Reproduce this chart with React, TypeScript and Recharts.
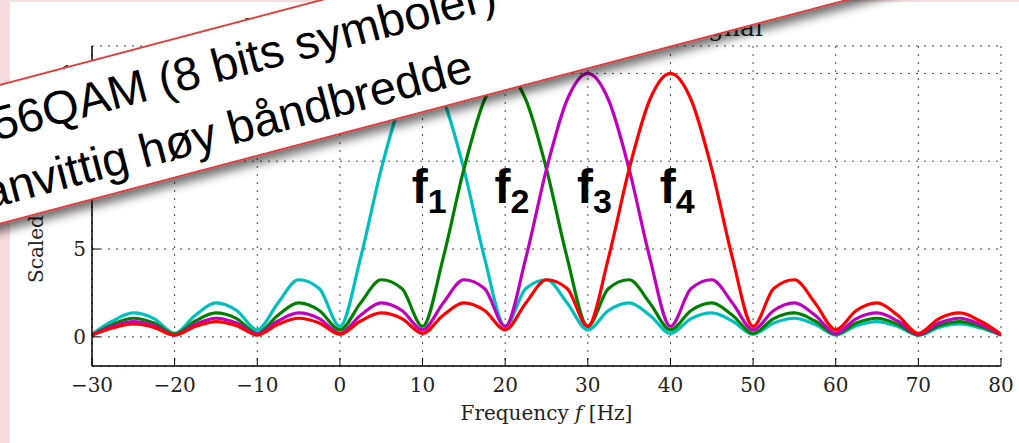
import { CartesianGrid, Line, LineChart, ReferenceDot, XAxis, YAxis } from "recharts";

// Frequency axis (Hz) and the four sub-carrier spectra.
const FREQ = [
  -30, -27.5, -25, -22.5, -20, -17.5, -15, -12.5, -10, -7.5, -5, -2.5, 0, 2.5, 5, 7.5,
  10, 12.5, 15, 17.5, 20, 22.5, 25, 27.5, 30, 32.5, 35, 37.5, 40, 42.5, 45, 47.5,
  50, 52.5, 55, 57.5, 60, 62.5, 65, 67.5, 70, 72.5, 75, 77.5, 80,
];
const F1_CYAN = [
  0.15, 0.9, 1.36, 1.04, 0.2, 1.23, 1.93, 1.5, 0.4, 1.93, 3.25, 2.75, 0.6, 4.5, 9.55, 13.5,
  15, 13.5, 9.55, 4.5, 0.6, 2.75, 3.25, 1.93, 0.4, 1.5, 1.93, 1.23, 0.2, 1.04, 1.36, 0.9,
  0.15, 0.79, 1.06, 0.71, 0.1, 0.64, 0.87, 0.59, 0.1, 0.54, 0.73, 0.5, 0.1,
];
const F2_GREEN = [
  0.1, 0.71, 1.06, 0.79, 0.15, 0.9, 1.36, 1.04, 0.2, 1.23, 1.93, 1.5, 0.4, 1.93, 3.25, 2.75,
  0.6, 4.5, 9.55, 13.5, 15, 13.5, 9.55, 4.5, 0.6, 2.75, 3.25, 1.93, 0.4, 1.5, 1.93, 1.23,
  0.2, 1.04, 1.36, 0.9, 0.15, 0.79, 1.06, 0.71, 0.1, 0.64, 0.87, 0.59, 0.1,
];
const F3_MAGENTA = [
  0.1, 0.59, 0.87, 0.64, 0.1, 0.71, 1.06, 0.79, 0.15, 0.9, 1.36, 1.04, 0.2, 1.23, 1.93, 1.5,
  0.4, 1.93, 3.25, 2.75, 0.6, 4.5, 9.55, 13.5, 15, 13.5, 9.55, 4.5, 0.6, 2.75, 3.25, 1.93,
  0.4, 1.5, 1.93, 1.23, 0.2, 1.04, 1.36, 0.9, 0.15, 0.79, 1.06, 0.71, 0.1,
];
const F4_RED = [
  0.1, 0.5, 0.73, 0.54, 0.1, 0.59, 0.87, 0.64, 0.1, 0.71, 1.06, 0.79, 0.15, 0.9, 1.36, 1.04,
  0.2, 1.23, 1.93, 1.5, 0.4, 1.93, 3.25, 2.75, 0.6, 4.5, 9.55, 13.5, 15, 13.5, 9.55, 4.5,
  0.6, 2.75, 3.25, 1.93, 0.4, 1.5, 1.93, 1.23, 0.2, 1.04, 1.36, 0.9, 0.15,
];

const X_TICKS = [-30, -20, -10, 0, 10, 20, 30, 40, 50, 60, 70, 80];
const Y_TICKS = [0, 5, 10, 15];
const X_DOMAIN: [number, number] = [-30, 80];
const Y_DOMAIN: [number, number] = [-1.66, 16.56];

// carrier centres and their f-labels
const CARRIERS = [10, 20, 30, 40];
const CARRIER_SUBS = ["1", "2", "3", "4"];
const LABEL_LEVEL = 7.6;

const SERIES = [
  { key: "c1", color: "#00bfbf", values: F1_CYAN },
  { key: "c2", color: "#008000", values: F2_GREEN },
  { key: "c3", color: "#bf00bf", values: F3_MAGENTA },
  { key: "c4", color: "#ff0000", values: F4_RED },
];

const SERIF = "'DejaVu Serif', serif";
const SANS = "'Liberation Sans', Arial, sans-serif";
const tickFont = { fontFamily: SERIF, fontSize: 20, fill: "#222" };
const frame = { stroke: "#000", strokeWidth: 1.5 };

const fmtTick = (v: number) => String(v).replace("-", "\u2212");
const blank = () => "";

function XTitle({ viewBox }: any) {
  const { x, y, width } = viewBox;
  return (
    <text x={x + width / 2} y={y + 54} textAnchor="middle" fontFamily={SERIF} fontSize={20} fill="#222">
      Frequency <tspan fontStyle="italic">f</tspan> [Hz]
    </text>
  );
}

// only "Scaled" shows below the banner in the slide
function YTitle({ viewBox }: any) {
  const { x, y } = viewBox;
  const cx = x + 11;
  const cy = y + 237;
  return (
    <text x={cx} y={cy} transform={`rotate(-90 ${cx} ${cy})`} textAnchor="start" fontFamily={SERIF} fontSize={20} fill="#222">
      Scaled amplitude
    </text>
  );
}

export default function App() {
  const rows = FREQ.map((f, i) => {
    const row: Record<string, number> = { f };
    SERIES.forEach((s) => (row[s.key] = s.values[i]));
    return row;
  });

  return (
    <div style={{ position: "fixed", left: 0, top: 0, width: 1019, height: 443, background: "#f6dcdc", overflow: "hidden" }}>
      <div style={{ position: "absolute", left: 10, top: 2, right: 0, bottom: 0, background: "#fff" }} />
      <div style={{ position: "absolute", left: 0, top: 0 }}>
        <LineChart width={1019} height={443} data={rows} margin={{ top: 46, right: 18, bottom: 37, left: 32 }}>
          <CartesianGrid stroke="#444" strokeDasharray="2 6" />
          <XAxis
            dataKey="f" type="number" domain={X_DOMAIN} ticks={X_TICKS} allowDataOverflow height={40}
            tickSize={-8} tickMargin={19.5} tickFormatter={fmtTick} tick={tickFont}
            axisLine={frame} tickLine={{ stroke: "#000" }} label={(p: any) => <XTitle {...p} />}
          />
          <XAxis
            xAxisId="top" orientation="top" dataKey="f" type="number" domain={X_DOMAIN} ticks={X_TICKS}
            allowDataOverflow height={0} tickSize={-8} tickFormatter={blank} axisLine={frame} tickLine={{ stroke: "#000" }}
          />
          <YAxis
            type="number" domain={Y_DOMAIN} ticks={Y_TICKS} allowDataOverflow width={60}
            tickSize={-8} tickMargin={14} tickFormatter={fmtTick} tick={tickFont}
            axisLine={frame} tickLine={{ stroke: "#000" }} label={(p: any) => <YTitle {...p} />}
          />
          <YAxis
            yAxisId="right" orientation="right" type="number" domain={Y_DOMAIN} ticks={Y_TICKS}
            allowDataOverflow width={0} tickSize={-8} tickFormatter={blank} axisLine={frame} tickLine={{ stroke: "#000" }}
          />
          {SERIES.map((s) => (
            <Line
              key={s.key} type="monotone" dataKey={s.key} stroke={s.color} strokeWidth={3.2}
              dot={false} isAnimationActive={false}
            />
          ))}
          {CARRIERS.map((c, i) => (
            <ReferenceDot
              key={c} x={c - 1.3} y={LABEL_LEVEL} r={1} fill="none" stroke="none"
              shape={(p: any) => (
                <text x={p.cx} y={p.cy} fontFamily={SANS} fontWeight="bold" fontSize={48} fill="#000">
                  f<tspan fontSize={34} dy={10}>{CARRIER_SUBS[i]}</tspan>
                </text>
              )}
            />
          ))}
        </LineChart>
      </div>

      {/* title (mostly hidden) + the slanted slide banner on top */}
      <svg width={1019} height={443} style={{ position: "absolute", left: 0, top: 0, pointerEvents: "none" }}>
        <defs>
          <filter id="bannerShadow" x="-10%" y="-30%" width="120%" height="180%">
            <feDropShadow dx="0" dy="7" stdDeviation="5" floodColor="#000" floodOpacity="0.55" />
          </filter>
        </defs>
        <text x={763} y={36} textAnchor="end" fontFamily={SERIF} fontSize={25} fill="#222">
          Frequency spectrum of the OFDM signal
        </text>
        <g transform="translate(0,85) rotate(-14.8)">
          <rect x={-160} y={0} width={1500} height={134} fill="#fff" stroke="#e03c3c" strokeWidth={2} filter="url(#bannerShadow)" />
          <text x={-44} y={53} fontFamily={SANS} fontSize={47} fill="#000">256QAM (8 bits symboler)</text>
          <text x={-72} y={117} fontFamily={SANS} fontSize={47} fill="#000">Vanvittig høy båndbredde</text>
        </g>
      </svg>
    </div>
  );
}
